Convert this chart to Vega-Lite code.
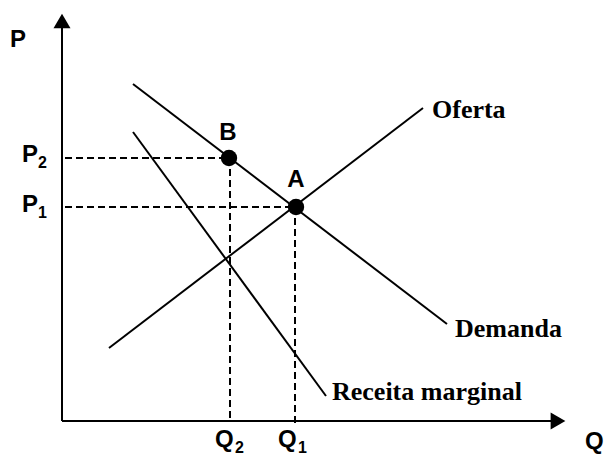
{
  "$schema": "https://vega.github.io/schema/vega-lite/v6.json",
  "width": 605,
  "height": 459,
  "autosize": {"type": "fit", "contains": "padding"},
  "padding": 0,
  "background": "white",
  "config": {"view": {"stroke": null}},
  "datasets": {
    "segments": [
      {"name": "eixoP", "kind": "axis", "q1": 0, "p1": 0, "q2": 0, "p2": 398},
      {"name": "eixoQ", "kind": "axis", "q1": 0, "p1": 0, "q2": 492, "p2": 0},
      {"name": "Oferta", "kind": "curve", "q1": 47, "p1": 73, "q2": 361, "p2": 313},
      {"name": "Demanda", "kind": "curve", "q1": 71, "p1": 337, "q2": 385, "p2": 97},
      {"name": "Receita marginal", "kind": "curve", "q1": 71, "p1": 289, "q2": 264, "p2": 25},
      {"name": "P2", "kind": "dash", "q1": 3, "p1": 263, "q2": 167, "p2": 263},
      {"name": "P1", "kind": "dash", "q1": 3, "p1": 214, "q2": 234, "p2": 214},
      {"name": "Q2", "kind": "dash", "q1": 168, "p1": 263, "q2": 168, "p2": 0},
      {"name": "Q1", "kind": "dash", "q1": 233, "p1": 214, "q2": 233, "p2": -3}
    ],
    "arrows": [
      {"dir": "up", "q": 0, "p": 400},
      {"dir": "right", "q": 496, "p": 0}
    ],
    "points": [
      {"name": "A", "q": 234, "p": 214},
      {"name": "B", "q": 167, "p": 263}
    ],
    "labels": [
      {"role": "main", "text": "P", "q": -52, "p": 374},
      {"role": "main", "text": "P", "q": -40, "p": 259},
      {"role": "sub", "text": "2", "q": -24, "p": 253},
      {"role": "main", "text": "P", "q": -40, "p": 209},
      {"role": "sub", "text": "1", "q": -24, "p": 203},
      {"role": "main", "text": "Q", "q": 153, "p": -26},
      {"role": "sub", "text": "2", "q": 173, "p": -32},
      {"role": "main", "text": "Q", "q": 216, "p": -26},
      {"role": "sub", "text": "1", "q": 236, "p": -32},
      {"role": "main", "text": "Q", "q": 523, "p": -28},
      {"role": "point", "text": "B", "q": 166, "p": 281},
      {"role": "point", "text": "A", "q": 234, "p": 234},
      {"role": "curve", "text": "Oferta", "q": 370, "p": 303},
      {"role": "curve", "text": "Demanda", "q": 393, "p": 84},
      {"role": "curve", "text": "Receita marginal", "q": 270, "p": 21}
    ]
  },
  "layer": [
    {
      "data": {"name": "segments"},
      "transform": [{"filter": "datum.kind === 'dash'"}],
      "mark": {"type": "rule", "strokeWidth": 2, "strokeDash": [7, 4], "color": "black"},
      "encoding": {
        "x": {"field": "q1", "type": "quantitative", "scale": {"domain": [-62, 543], "nice": false, "zero": false}, "axis": null},
        "y": {"field": "p1", "type": "quantitative", "scale": {"domain": [-38, 421], "nice": false, "zero": false}, "axis": null},
        "x2": {"field": "q2"},
        "y2": {"field": "p2"}
      }
    },
    {
      "data": {"name": "segments"},
      "transform": [{"filter": "datum.kind !== 'dash'"}],
      "mark": {"type": "rule", "strokeWidth": 2, "color": "black", "strokeCap": "butt"},
      "encoding": {
        "x": {"field": "q1", "type": "quantitative", "scale": {"domain": [-62, 543], "nice": false, "zero": false}, "axis": null},
        "y": {"field": "p1", "type": "quantitative", "scale": {"domain": [-38, 421], "nice": false, "zero": false}, "axis": null},
        "x2": {"field": "q2"},
        "y2": {"field": "p2"}
      }
    },
    {
      "data": {"name": "arrows"},
      "mark": {"type": "point", "filled": true, "opacity": 1, "color": "black", "size": 290},
      "encoding": {
        "x": {"field": "q", "type": "quantitative", "scale": {"domain": [-62, 543], "nice": false, "zero": false}, "axis": null},
        "y": {"field": "p", "type": "quantitative", "scale": {"domain": [-38, 421], "nice": false, "zero": false}, "axis": null},
        "shape": {"field": "dir", "type": "nominal", "scale": {"domain": ["up", "right"], "range": ["triangle-up", "triangle-right"]}, "legend": null}
      }
    },
    {
      "data": {"name": "points"},
      "mark": {"type": "point", "filled": true, "opacity": 1, "color": "black", "shape": "circle", "size": 270},
      "encoding": {
        "x": {"field": "q", "type": "quantitative", "scale": {"domain": [-62, 543], "nice": false, "zero": false}, "axis": null},
        "y": {"field": "p", "type": "quantitative", "scale": {"domain": [-38, 421], "nice": false, "zero": false}, "axis": null}
      }
    },
    {
      "data": {"name": "labels"},
      "transform": [{"filter": "datum.role === 'main'"}],
      "mark": {"type": "text", "font": "Liberation Sans", "fontWeight": "bold", "fontSize": 24, "align": "left", "baseline": "alphabetic", "color": "black"},
      "encoding": {
        "x": {"field": "q", "type": "quantitative", "scale": {"domain": [-62, 543], "nice": false, "zero": false}, "axis": null},
        "y": {"field": "p", "type": "quantitative", "scale": {"domain": [-38, 421], "nice": false, "zero": false}, "axis": null},
        "text": {"field": "text"}
      }
    },
    {
      "data": {"name": "labels"},
      "transform": [{"filter": "datum.role === 'sub'"}],
      "mark": {"type": "text", "font": "Liberation Sans", "fontWeight": "bold", "fontSize": 16, "align": "left", "baseline": "alphabetic", "color": "black"},
      "encoding": {
        "x": {"field": "q", "type": "quantitative", "scale": {"domain": [-62, 543], "nice": false, "zero": false}, "axis": null},
        "y": {"field": "p", "type": "quantitative", "scale": {"domain": [-38, 421], "nice": false, "zero": false}, "axis": null},
        "text": {"field": "text"}
      }
    },
    {
      "data": {"name": "labels"},
      "transform": [{"filter": "datum.role === 'point'"}],
      "mark": {"type": "text", "font": "Liberation Sans", "fontWeight": "bold", "fontSize": 24, "align": "center", "baseline": "alphabetic", "color": "black"},
      "encoding": {
        "x": {"field": "q", "type": "quantitative", "scale": {"domain": [-62, 543], "nice": false, "zero": false}, "axis": null},
        "y": {"field": "p", "type": "quantitative", "scale": {"domain": [-38, 421], "nice": false, "zero": false}, "axis": null},
        "text": {"field": "text"}
      }
    },
    {
      "data": {"name": "labels"},
      "transform": [{"filter": "datum.role === 'curve'"}],
      "mark": {"type": "text", "font": "Liberation Serif", "fontWeight": "bold", "fontSize": 26, "align": "left", "baseline": "alphabetic", "color": "black"},
      "encoding": {
        "x": {"field": "q", "type": "quantitative", "scale": {"domain": [-62, 543], "nice": false, "zero": false}, "axis": null},
        "y": {"field": "p", "type": "quantitative", "scale": {"domain": [-38, 421], "nice": false, "zero": false}, "axis": null},
        "text": {"field": "text"}
      }
    }
  ]
}
